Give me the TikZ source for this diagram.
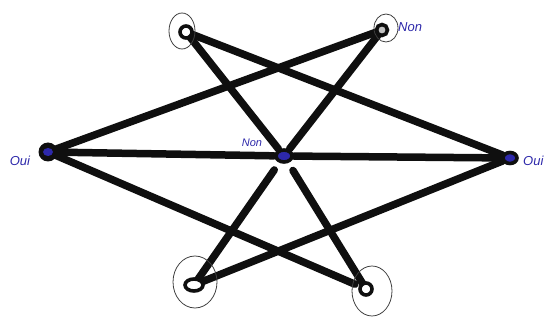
\documentclass[tikz,border=0pt]{standalone}
\usepackage{fontspec}
\setmainfont{Liberation Sans}
\definecolor{ink}{RGB}{45,40,170}
\definecolor{pen}{RGB}{15,15,15}
\begin{document}
\begin{tikzpicture}[x=1pt,y=-1pt,
  edge/.style={draw=pen,line width=7.5pt,line cap=round},
  halo/.style={draw=pen!80,line width=0.8pt},
  ring/.style={draw=pen,line width=3.6pt},
  lbl/.style={text=ink,font=\itshape\fontsize{13}{13}\selectfont,inner sep=0pt}]
\useasboundingbox (0,0) rectangle (551,320);
% vertices
\coordinate (TL) at (186,32);
\coordinate (TR) at (382,30);
\coordinate (L) at (48,152);
\coordinate (R) at (510,158);
\coordinate (C) at (284,156);
\coordinate (BL) at (194,285);
\coordinate (BR) at (366,289);
% edges
\draw[edge,shorten <=6pt,shorten >=9pt] (TL) -- (C);
\draw[edge,shorten <=6pt,shorten >=9pt] (TR) -- (C);
\draw[edge,shorten <=17pt,shorten >=6pt] (C) -- (BL);
\draw[edge,shorten <=17pt,shorten >=6pt] (C) -- (BR);
\draw[edge,shorten <=7pt,shorten >=10pt] (L) -- (C);
\draw[edge,shorten <=10pt,shorten >=8pt] (C) -- (R);
\draw[edge,shorten <=7pt,shorten >=6pt] (L) -- (TR);
\draw[edge,shorten <=7pt,shorten >=12pt] (L) -- (BR);
\draw[edge,shorten <=4pt,shorten >=8pt] (TL) -- (R);
\draw[edge,shorten <=6pt,shorten >=8pt] (BL) -- (R);
% vertex drawings
\draw[halo] (182,31) ellipse [x radius=13,y radius=18];
\draw[ring,fill=white] (TL) circle [radius=6];
\draw[halo] (386,28) ellipse [x radius=12,y radius=14];
\draw[ring,fill=pen!25] (TR) circle [radius=5.5];
\fill[pen] (L) circle [radius=9.5];
\fill[ink] (L) ellipse [x radius=5,y radius=4];
\draw[ring,fill=ink] (R) ellipse [x radius=7,y radius=5.5];
\draw[ring,fill=ink] (C) ellipse [x radius=8,y radius=6];
\draw[halo] (195,282) ellipse [x radius=22,y radius=26];
\draw[ring,fill=white] (BL) ellipse [x radius=9,y radius=6];
\draw[halo] (372,291) ellipse [x radius=20,y radius=25];
\draw[ring,fill=white] (BR) ellipse [x radius=6,y radius=6];
% labels
\node[lbl,anchor=west] (lTR) at (398,27) {Non};
\node[lbl] (lL) at (20,161) {Oui};
\node[lbl,anchor=west] (lR) at (523,161) {Oui};
\node[lbl,font=\itshape\fontsize{11}{11}\selectfont] (lC) at (252,143) {Non};
\end{tikzpicture}
\end{document}
